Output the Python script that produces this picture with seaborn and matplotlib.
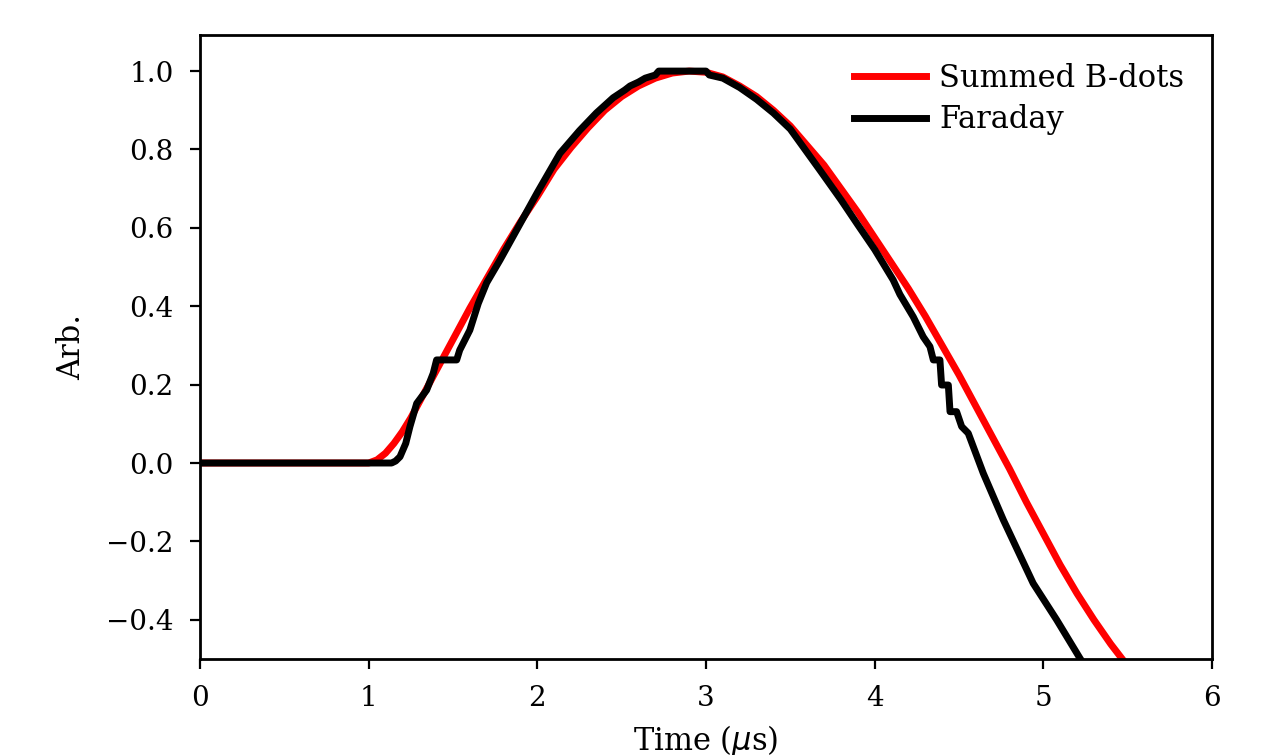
import numpy as np
import pandas as pd
import matplotlib
matplotlib.use("Agg")
import matplotlib.pyplot as plt
import seaborn as sns

# Summed B-dots (red)
bdot_t = [0.0, 0.5, 1.0, 1.05, 1.1, 1.15, 1.2, 1.25, 1.3, 1.4, 1.5, 1.6, 1.7, 1.8, 1.9,
          2.0, 2.1, 2.2, 2.3, 2.4, 2.5, 2.6, 2.7, 2.8, 2.9, 3.0, 3.1, 3.2, 3.3, 3.4,
          3.5, 3.6, 3.7, 3.8, 3.9, 4.0, 4.1, 4.2, 4.3, 4.4, 4.5, 4.6, 4.7, 4.8, 4.9,
          5.0, 5.1, 5.2, 5.3, 5.4, 5.5]
bdot_v = [0.0, 0.0, 0.0, 0.008, 0.025, 0.05, 0.08, 0.115, 0.155, 0.235, 0.315, 0.395, 0.47, 0.545, 0.615,
          0.68, 0.75, 0.805, 0.855, 0.90, 0.935, 0.962, 0.982, 0.995, 1.0, 0.997, 0.985, 0.962, 0.935, 0.90,
          0.86, 0.81, 0.76, 0.70, 0.64, 0.575, 0.51, 0.445, 0.375, 0.30, 0.225, 0.145, 0.065, -0.015, -0.10,
          -0.18, -0.26, -0.333, -0.40, -0.462, -0.518]

# Faraday (black)
far_t = [0.0, 0.5, 1.136, 1.16, 1.186, 1.22, 1.245, 1.285, 1.344, 1.383, 1.403, 1.522, 1.54, 1.60,
         1.65, 1.70, 1.779, 1.9, 2.0, 2.134, 2.25, 2.35, 2.45, 2.52, 2.55, 2.60, 2.64, 2.70, 2.72, 3.0,
         3.02, 3.1, 3.2, 3.3, 3.4, 3.5, 3.676, 3.8, 3.9, 4.0, 4.11, 4.15, 4.229, 4.288,
         4.328, 4.348, 4.387, 4.397, 4.437, 4.447, 4.486, 4.516, 4.555, 4.644, 4.763, 4.94,
         5.079, 5.217, 5.25]
far_v = [0.0, 0.0, 0.0, 0.005, 0.016, 0.05, 0.093, 0.152, 0.186, 0.229, 0.263, 0.263, 0.288, 0.339,
         0.407, 0.46, 0.518, 0.612, 0.69, 0.79, 0.848, 0.893, 0.932, 0.952, 0.962, 0.972, 0.982, 0.99, 1.0, 1.0,
         0.99, 0.982, 0.958, 0.928, 0.893, 0.852, 0.747, 0.672, 0.608, 0.545, 0.467, 0.43, 0.373, 0.322,
         0.297, 0.263, 0.263, 0.199, 0.199, 0.131, 0.131, 0.093, 0.076, -0.026, -0.145, -0.307,
         -0.40, -0.498, -0.52]

bdot = pd.DataFrame({"t": bdot_t, "v": bdot_v})
far = pd.DataFrame({"t": far_t, "v": far_v})

plt.rcParams["font.family"] = ["DejaVu Serif"]
plt.rcParams["font.size"] = 10
plt.rcParams["axes.linewidth"] = 1.0
plt.rcParams["xtick.major.pad"] = 6
plt.rcParams["ytick.major.pad"] = 6

fig = plt.figure(figsize=(6.36, 3.775), dpi=200)
ax = fig.add_axes([0.1572, 0.1272, 0.7956, 0.8264])

sns.lineplot(data=bdot, x="t", y="v", color="red", lw=2.5, estimator=None,
             label="Summed B-dots", ax=ax)
sns.lineplot(data=far, x="t", y="v", color="black", lw=2.5, estimator=None,
             label="Faraday", ax=ax)

ax.set_xlim(0, 6)
ax.set_ylim(-0.5, 1.092)
ax.set_yticks([-0.4, -0.2, 0.0, 0.2, 0.4, 0.6, 0.8, 1.0])
ax.set_xlabel(r"Time ($\mu$s)", fontsize=11)
ax.set_ylabel("Arb.", fontsize=11, labelpad=7)
ax.legend(loc="upper right", frameon=False, fontsize=11,
          handlelength=2.35, handletextpad=0.45, labelspacing=0.35)

fig.savefig("out.png", dpi=200)
